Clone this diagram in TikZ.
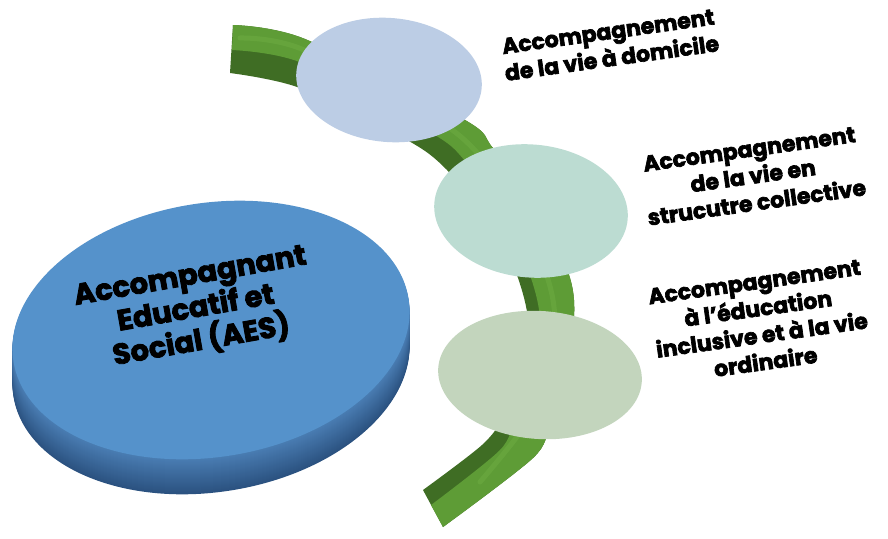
\documentclass[tikz,border=0pt]{standalone}
\usepackage{fontspec}
\setmainfont{Poppins}[BoldFeatures={FakeBold=3}]
\usetikzlibrary{shapes.geometric}
\definecolor{discTop}{HTML}{5592CB}
\definecolor{discSideA}{HTML}{4A7DB3}
\definecolor{discSideB}{HTML}{2B5280}
\definecolor{bandDark}{HTML}{3F6D24}
\definecolor{bandLight}{HTML}{5E9C36}
\definecolor{bandHigh}{HTML}{76B54A}
\definecolor{cOne}{HTML}{BCCDE5}
\definecolor{cTwo}{HTML}{BCDCD2}
\definecolor{cThree}{HTML}{C3D5BD}
\tikzset{
  bubble/.style={ellipse, inner sep=0pt, draw=none},
  labeltext/.style={align=center, font=\bfseries\fontsize{22}{27}\selectfont, text=black, rotate=8},
  maintext/.style={align=center, font=\bfseries\fontsize{29}{33}\selectfont, text=black}
}
\begin{document}
\begin{tikzpicture}[x=1pt,y=1pt]
\fill[white] (0,0) rectangle (888,-538);
\useasboundingbox (0,0) rectangle (888,-538);

% ---- green curved band ----
\fill[bandDark] plot[smooth] coordinates {(233,-25) (305,-39) (465,-120) (493,-148) (540,-205) (570,-278) (574,-320) (566,-380) (550,-425) (533,-458) (443,-527)}
  -- plot[smooth] coordinates {(423,-490) (482,-445) (505,-415) (524,-370) (528,-320) (518,-278) (497,-230) (447,-170) (407,-140) (300,-88) (230,-73)} -- cycle;
\fill[bandLight] plot[smooth] coordinates {(233,-25) (305,-39) (465,-120) (493,-148) (540,-205) (570,-278) (574,-320) (566,-380) (550,-425) (533,-458) (443,-527)}
  -- plot[smooth] coordinates {(431,-505) (500,-450) (515,-418) (534,-372) (540,-320) (531,-278) (508,-224) (465,-161) (430,-132) (302,-63) (232,-50)} -- cycle;
\draw[bandHigh, line width=5pt, opacity=0.35, line cap=round] plot[smooth] coordinates {(240,-38) (304,-50) (455,-132) (520,-215) (553,-300) (548,-390) (480,-482)};

% ---- bubbles ----
\node[bubble, fill=cOne, minimum width=186pt, minimum height=124pt, rotate=-5] (c1) at (389,-80) {};
\node[bubble, fill=cTwo, minimum width=194pt, minimum height=133pt, rotate=-5] (c2) at (531,-211) {};
\node[bubble, fill=cThree, minimum width=204pt, minimum height=128pt, rotate=-4] (c3) at (540,-375) {};

% ---- disc side ----
\foreach \i in {35,34,...,1}{
  \pgfmathsetmacro{\mixv}{100*\i/35}
  \fill[discSideB!\mixv!discSideA, rotate around={9:(211,-330-\i)}] (211,-330-\i) ellipse [x radius=200, y radius=127];
}
% ---- disc top ----
\node[bubble, fill=discTop, minimum width=400pt, minimum height=254pt, rotate=9] (aes) at (211,-330) {};
\node[maintext, rotate=10] (aestext) at (196,-310) {Accompagnant\\Educatif et\\Social (AES)};

% ---- labels ----
\node[labeltext] (l1) at (610,-45) {Accompagnement\\de la vie à domicile};
\node[labeltext] (l2) at (753,-176) {Accompagnement\\de la vie en\\strucutre collective};
\node[labeltext] (l3) at (760,-322) {Accompagnement\\à l’éducation\\inclusive et à la vie\\ordinaire};
\end{tikzpicture}
\end{document}
